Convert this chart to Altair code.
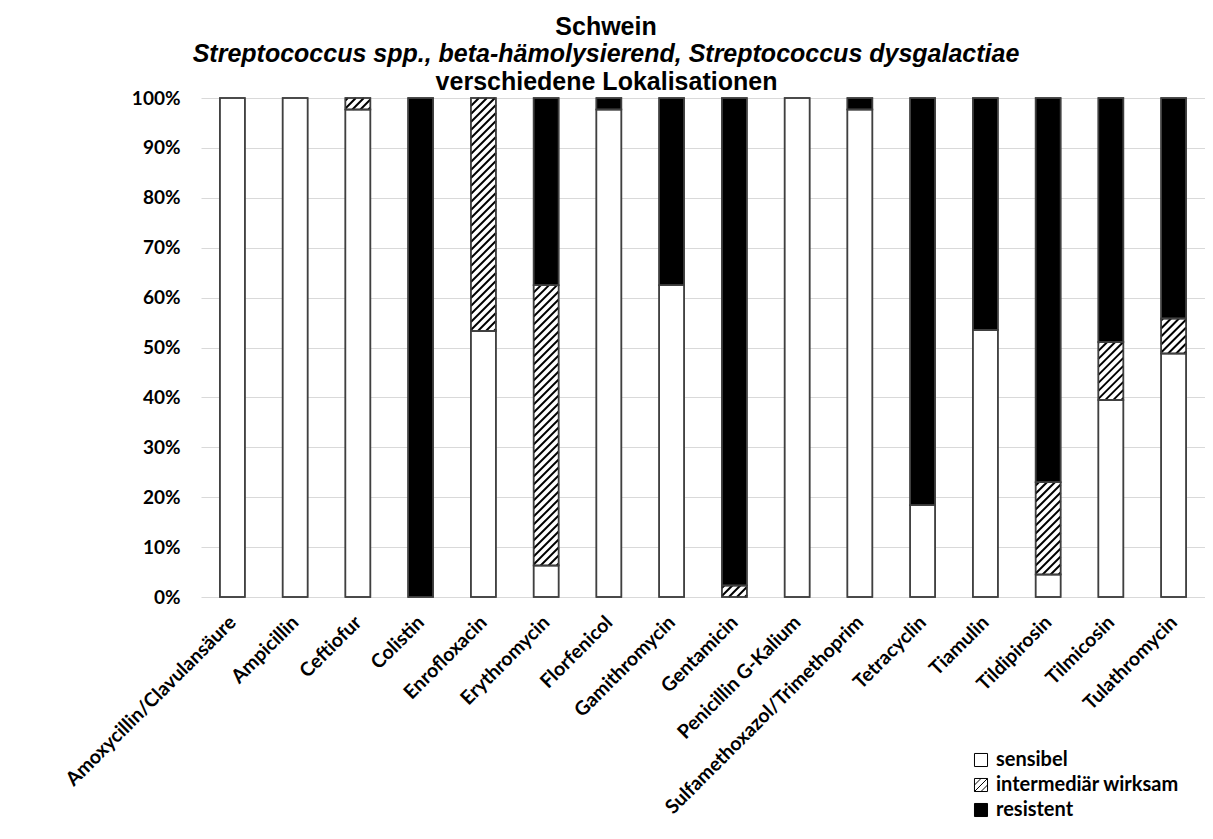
import altair as alt
import pandas as pd

# ---- data ----
cats = ["Amoxycillin/Clavulansäure", "Ampicillin", "Ceftiofur", "Colistin",
        "Enrofloxacin", "Erythromycin", "Florfenicol", "Gamithromycin",
        "Gentamicin", "Penicillin G-Kalium", "Sulfamethoxazol/Trimethoprim",
        "Tetracyclin", "Tiamulin", "Tildipirosin", "Tilmicosin", "Tulathromycin"]
sensibel   = [100, 100, 97.7, 0, 53.3, 6.3, 97.7, 62.5, 0, 100, 97.7, 18.4, 53.5, 4.5, 39.5, 48.8]
intermed   = [0, 0, 2.3, 0, 46.7, 56.2, 0, 0, 2.3, 0, 0, 0, 0, 18.5, 11.6, 7.0]
resistent  = [0, 0, 0, 100, 0, 37.5, 2.3, 37.5, 97.7, 0, 2.3, 81.6, 46.5, 77.0, 48.9, 44.2]
status = ["sensibel", "intermediär wirksam", "resistent"]
y_ticks = [0, 10, 20, 30, 40, 50, 60, 70, 80, 90, 100]

# ---- layout / style ----
W, H = 1004, 499
BAR_PX = 25
HATCH_GAP = 8.0
sx = W / len(cats)
sy = H / 100.0
hw = BAR_PX / 2 / sx

rows = []
for i, c in enumerate(cats):
    base = 0.0
    for st, val in zip(status, (sensibel[i], intermed[i], resistent[i])):
        if val > 0:
            rows.append(dict(cat=c, idx=i, status=st, xl=i - hw, xr=i + hw,
                             y0=base, y1=base + val))
        base += val
bars = pd.DataFrame(rows)

# hatch strokes for the "intermediär wirksam" segments
hrows = []
for i in range(len(cats)):
    m = intermed[i]
    if m <= 0:
        continue
    y0 = sensibel[i]
    seg_h = m * sy
    c = -BAR_PX + 2.0
    while c < seg_h:
        t0 = max(0.0, -c)
        t1 = min(BAR_PX, seg_h - c)
        if t1 > t0:
            hrows.append(dict(hx0=i - hw + t0 / sx, hy0=y0 + (c + t0) / sy,
                              hx1=i - hw + t1 / sx, hy1=y0 + (c + t1) / sy))
        c += HATCH_GAP
hatch = pd.DataFrame(hrows)

HATCH_PATH = "M-1,-1H1V1H-1Z M-1,0L0,-1 M-1,1L1,-1 M0,1L1,0"

x_scale = alt.Scale(domain=[-0.5, len(cats) - 0.5], nice=False, zero=False)
y_scale = alt.Scale(domain=[0, 100], nice=False)
fill_scale = alt.Scale(domain=status, range=["white", "white", "black"])
shape_scale = alt.Scale(domain=status, range=["square", HATCH_PATH, "square"])

names_js = "[" + ",".join('"' + c + '"' for c in cats) + "]"

x_axis = alt.Axis(values=list(range(len(cats))), labelExpr=names_js + "[datum.value]",
                  labelAngle=-45, labelAlign="right", labelBaseline="middle",
                  labelFont="Lato", labelFontWeight="bold", labelFontSize=19.5,
                  labelColor="black", labelPadding=22, labelOverlap=False,
                  labelFlush=False, labelBound=False, labelLimit=0, ticks=False,
                  domain=False, grid=False, title=None, orient="bottom")
y_axis = alt.Axis(values=y_ticks, labelExpr="datum.value + '%'",
                  labelFont="Lato", labelFontWeight="bold", labelFontSize=19,
                  labelColor="black", labelPadding=21, ticks=False, domain=False,
                  grid=True, gridColor="#d9d9d9", gridWidth=1.2, title=None)
top_axis = alt.Axis(orient="top", title="verschiedene Lokalisationen",
                    labels=False, ticks=False, domain=False, grid=False,
                    titleFont="Liberation Sans", titleFontSize=25,
                    titleFontWeight="bold", titleColor="black",
                    titlePadding=4, titleX=606 - 201)

legend = alt.Legend(title=None, orient="none", legendX=770, legendY=652,
                    labelFont="Lato", labelFontWeight="bold", labelFontSize=20,
                    labelColor="black", labelLimit=0, symbolSize=170,
                    symbolStrokeColor="black", symbolStrokeWidth=1,
                    rowPadding=5, labelOffset=5)

bar_layer = alt.Chart(bars).mark_bar(stroke="#404040", strokeWidth=1.5).encode(
    x=alt.X("xl:Q", scale=x_scale, axis=x_axis),
    x2="xr:Q",
    y=alt.Y("y0:Q", scale=y_scale, axis=y_axis),
    y2="y1:Q",
    fill=alt.Fill("status:N", scale=fill_scale, legend=legend),
)

hatch_layer = alt.Chart(hatch).mark_rule(color="black", strokeWidth=2, strokeCap="butt").encode(
    x=alt.X("hx0:Q", scale=x_scale, axis=top_axis),
    x2="hx1:Q",
    y=alt.Y("hy0:Q", scale=y_scale, title=None),
    y2="hy1:Q",
)

outline_layer = alt.Chart(bars).mark_bar(fill="transparent", stroke="#404040", strokeWidth=1.5).encode(
    x=alt.X("xl:Q", scale=x_scale, axis=None),
    x2="xr:Q",
    y=alt.Y("y0:Q", scale=y_scale, title=None),
    y2="y1:Q",
)

legend_layer = alt.Chart(bars).transform_filter("false").mark_point(
    filled=True, stroke="black", strokeWidth=1, opacity=1).encode(
    fill=alt.Fill("status:N", scale=fill_scale, legend=legend),
    shape=alt.Shape("status:N", scale=shape_scale, legend=legend),
)

title = alt.TitleParams(
    text="Schwein",
    subtitle="Streptococcus spp., beta-hämolysierend, Streptococcus dysgalactiae",
    font="Liberation Sans", fontSize=25, fontWeight="bold", color="black",
    subtitleFont="Liberation Sans", subtitleFontSize=25, subtitleFontWeight="bold",
    subtitleFontStyle="italic", subtitleColor="black", subtitlePadding=2,
    anchor="middle", frame="group", dx=606 - (201 + W / 2), offset=2,
)

chart = alt.layer(bar_layer, hatch_layer, outline_layer, legend_layer).resolve_axis(
    x="independent"
).properties(
    width=W, height=H, title=title,
    autosize=alt.AutoSizeParams(type="none"),
    padding={"left": 193, "top": 90, "right": 0, "bottom": 230},
    background="white",
).configure_view(strokeWidth=0)

chart.save("out.html", embed_options={"renderer": "svg", "actions": False})
